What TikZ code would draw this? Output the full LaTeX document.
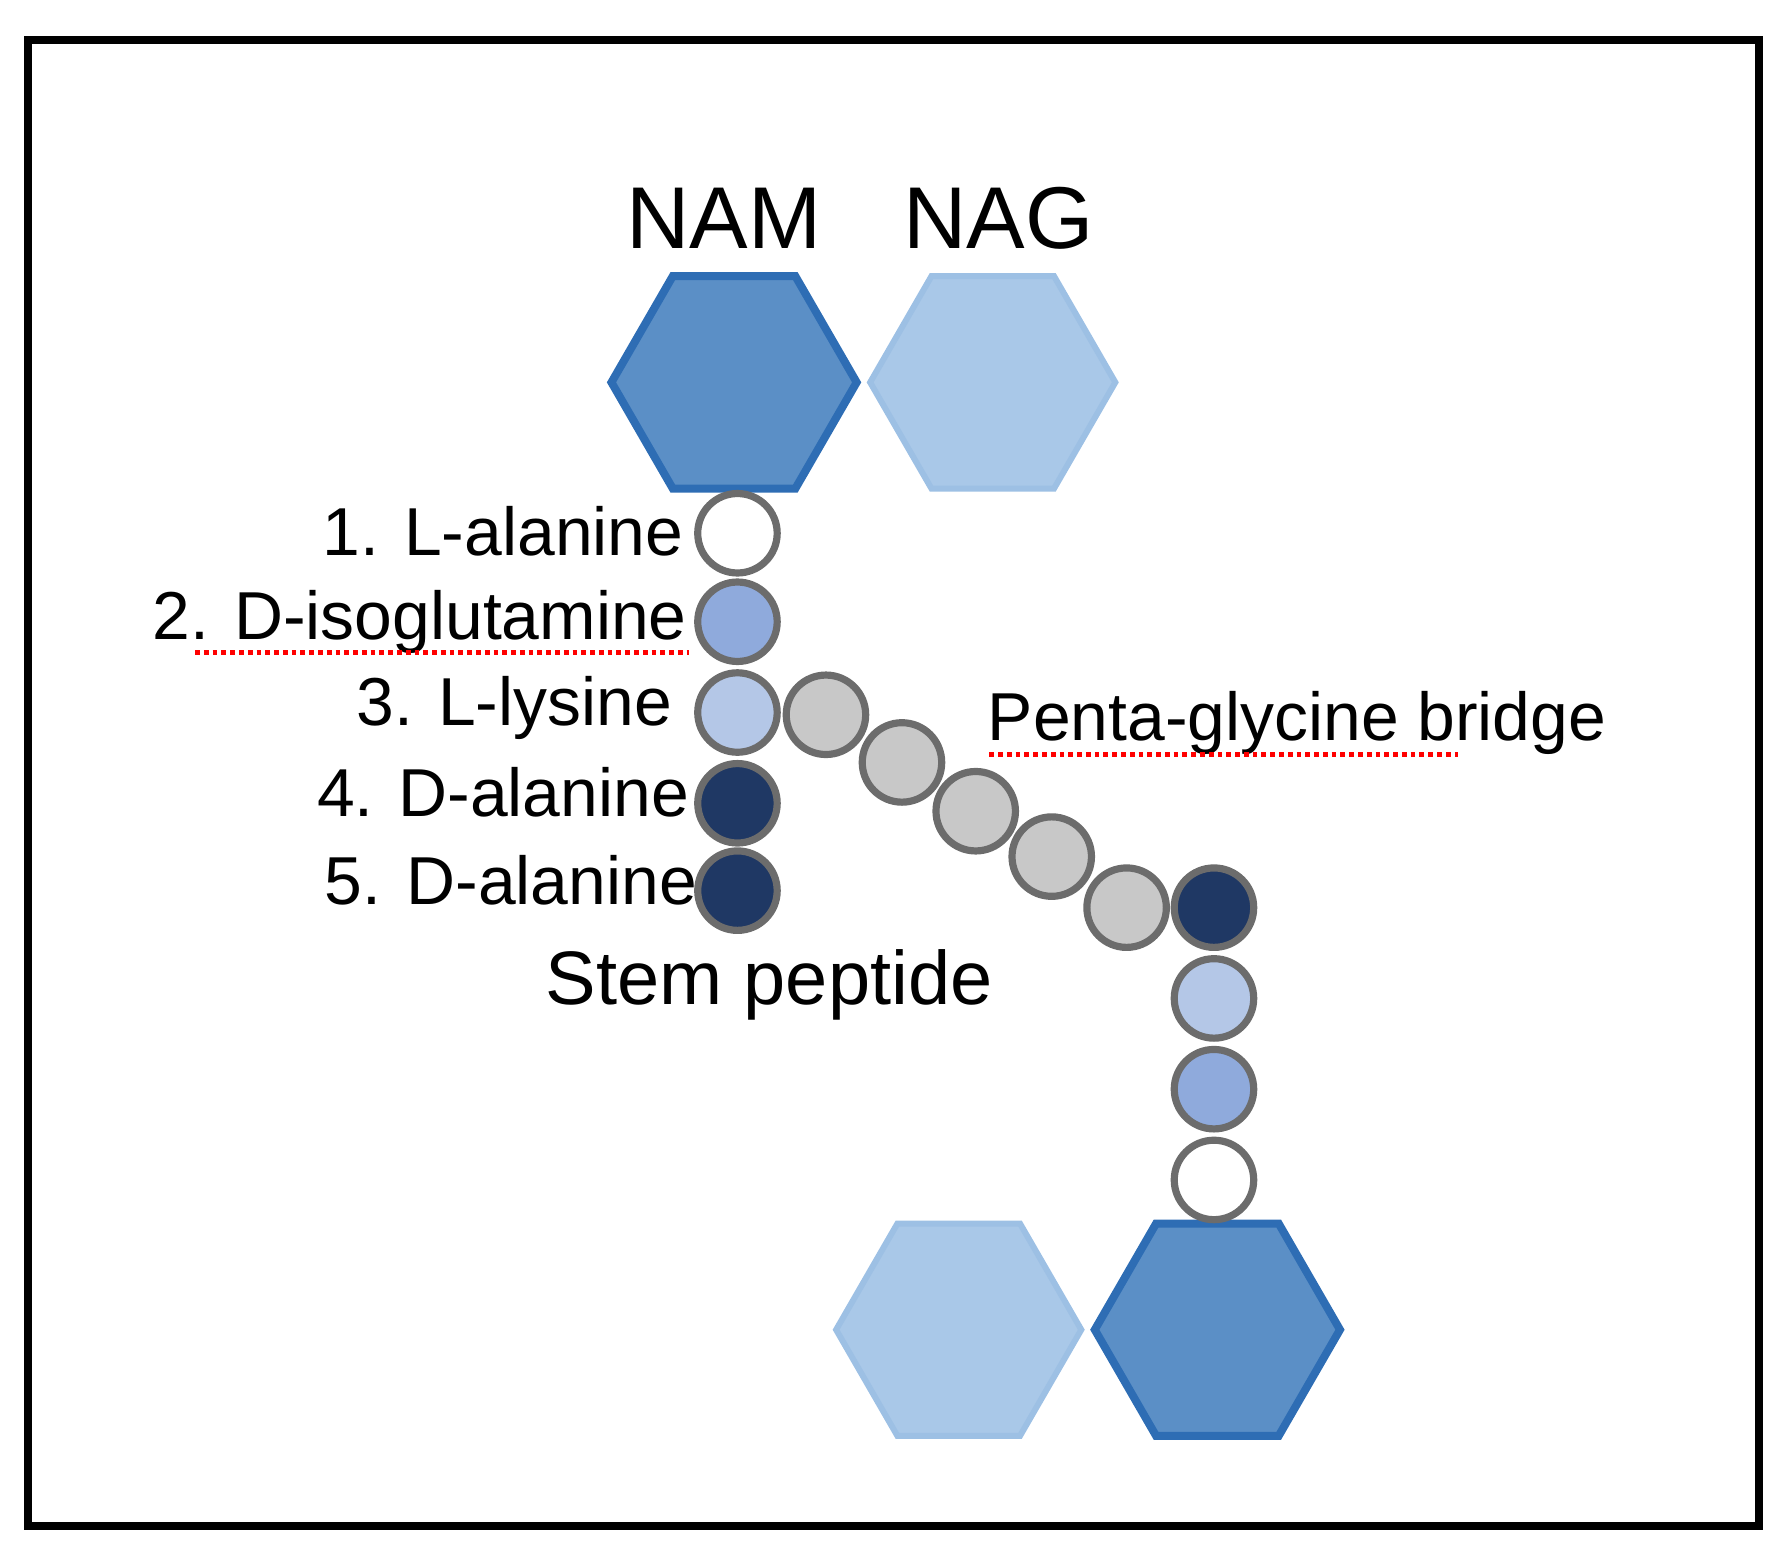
\documentclass[tikz,border=0pt]{standalone}
\usepackage{fontspec}
\setmainfont{Liberation Sans}
\usetikzlibrary{shapes.geometric}
\definecolor{namfill}{HTML}{5B8FC6}
\definecolor{namline}{HTML}{2E6DB4}
\definecolor{nagfill}{HTML}{A9C8E8}
\definecolor{nagline}{HTML}{9DC0E4}
\definecolor{aamid}{HTML}{8FAADC}
\definecolor{aalight}{HTML}{B4C7E7}
\definecolor{aadark}{HTML}{1F3864}
\definecolor{gly}{HTML}{C8C8C8}
\begin{document}
\begin{tikzpicture}[x=0.01cm,y=-0.01cm,
  nam/.style={regular polygon,regular polygon sides=6,minimum size=2.16cm,inner sep=0pt,fill=namfill,draw=namline,line width=2pt},
  nag/.style={regular polygon,regular polygon sides=6,minimum size=2.16cm,inner sep=0pt,fill=nagfill,draw=nagline,line width=1.5pt},
  aa/.style={circle,minimum size=0.7cm,inner sep=0pt,draw=gray!85!black,line width=1.8pt,fill=#1},
  lbl/.style={font=\fontsize{17}{19}\selectfont,anchor=east,inner sep=0pt},
  spell/.style={red,densely dotted,line width=1.2pt}]
\useasboundingbox (0,0) rectangle (1568,1372);
\draw[line width=2pt] (25,35) rectangle (1550,1345);

% sugars
\node[nam] (nam1) at (647,337) {};
\node[nag] (nag1) at (875,337) {};
\node[nag] (nag2) at (845,1172) {};
\node[nam] (nam2) at (1073,1172) {};
\node[font=\fontsize{22}{24}\selectfont] (tnam) at (638,192) {NAM};
\node[font=\fontsize{22}{24}\selectfont] (tnag) at (880,192) {NAG};

% stem peptide
\node[aa=white] (s1) at (650,470) {};
\node[aa=aamid] (s2) at (650,548) {};
\node[aa=aalight] (s3) at (650,628) {};
\node[aa=aadark] (s4) at (650,708) {};
\node[aa=aadark] (s5) at (650,785) {};

% bridge
\node[aa=gly] (g1) at (728,630) {};
\node[aa=gly] (g2) at (795,672) {};
\node[aa=gly] (g3) at (860,715) {};
\node[aa=gly] (g4) at (927,755) {};
\node[aa=gly] (g5) at (993,800) {};

% second stem
\node[aa=aadark] (r4) at (1070,800) {};
\node[aa=aalight] (r3) at (1070,880) {};
\node[aa=aamid] (r2) at (1070,960) {};
\node[aa=white] (r1) at (1070,1040) {};

% labels
\node[lbl] (l1) at (603,468) {1. L-alanine};
\node[lbl] (l2) at (606,548) {2. D-isoglutamine};
\node[lbl] (l3) at (593,624) {3. L-lysine};
\node[lbl] (l4) at (608,698) {4. D-alanine};
\node[lbl] (l5) at (615,776) {5. D-alanine};
\node[font=\fontsize{19}{21}\selectfont] (stem) at (678,868) {Stem peptide};
\node[lbl,anchor=west] (pg) at (870,637) {Penta-glycine bridge};

\draw[spell] (172,575) -- (607,575);
\draw[spell] (872,665) -- (1285,665);
\end{tikzpicture}
\end{document}
